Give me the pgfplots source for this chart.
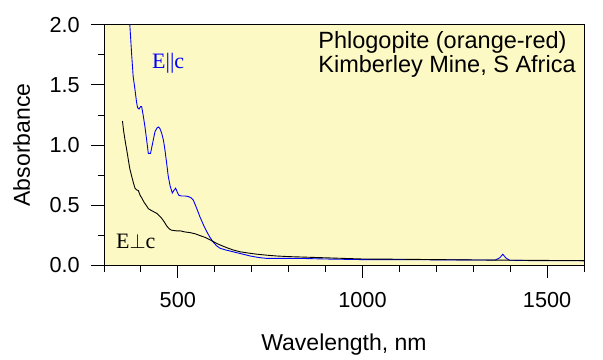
\documentclass[border=0pt]{standalone}
\usepackage{pgfplots}
\pgfplotsset{compat=1.18}
\usepackage{fontspec}
\setmainfont{Liberation Sans}
\newfontfamily\seriffont{Liberation Serif}
\definecolor{bgyellow}{RGB}{253,249,196}
\begin{document}
\begin{tikzpicture}[x=1bp,y=1bp]
\useasboundingbox (0,0) rectangle (603,359);
\begin{axis}[
 at={(104bp,94bp)}, anchor=south west,
 scale only axis, width=480bp, height=240bp,
 xmin=300, xmax=1600, ymin=0, ymax=2,
 axis background/.style={fill=bgyellow},
 axis line style={line width=1bp},
 tick pos=left, tick align=outside,
 major tick length=13bp, minor tick length=6.5bp,
 every tick/.style={black, line width=1bp},
 xtick={500,1000,1500}, minor xtick={300,400,...,1600},
 ytick={0,0.5,1,1.5,2}, minor ytick={0.25,0.75,1.25,1.75},
 yticklabel style={/pgf/number format/fixed,/pgf/number format/fixed zerofill,/pgf/number format/precision=1, inner sep=0pt, xshift=-11bp},
 xticklabel style={/pgf/number format/1000 sep={}, inner sep=0pt, yshift=-14bp},
 /pgf/number format/assume math mode=true,
 ticklabel style={font=\fontsize{21.7bp}{26bp}\selectfont},
 xlabel={Wavelength, nm},
 xlabel style={at={(axis description cs:0.5,-0.3542)}, anchor=base, inner sep=0pt, font=\fontsize{23bp}{28bp}\selectfont},
 ylabel={Absorbance},
 ylabel style={at={(axis description cs:-0.1542,0.5)}, anchor=base, rotate=0, inner sep=0pt, font=\fontsize{23bp}{28bp}\selectfont},
]
\addplot[blue, line width=0.9bp] coordinates {
(366,2.10) (370,2.00) (375,1.75) (379,1.57) (384,1.46) (388,1.36) (391,1.31)
(395,1.30) (399,1.32) (402,1.32) (406,1.25) (411,1.15) (416,1.03) (420,0.93)
(426,0.93) (432,1.02) (438,1.11) (443,1.14) (447,1.15) (451,1.14) (456,1.10)
(461,1.04) (465,0.96) (470,0.84) (474,0.74) (479,0.66) (485,0.60) (489,0.62)
(494,0.64) (498,0.61) (503,0.58) (510,0.575) (520,0.575) (529,0.57) (536,0.56)
(542,0.54) (550,0.48) (560,0.40) (570,0.33) (578,0.28) (587,0.23) (596,0.19)
(605,0.16) (614,0.14) (630,0.125) (650,0.11) (670,0.095) (696,0.075) (720,0.062)
(741,0.055) (780,0.055) (831,0.055) (900,0.05) (1000,0.045) (1100,0.045)
(1200,0.043) (1300,0.042) (1360,0.042) (1372,0.06) (1380,0.09) (1388,0.06)
(1398,0.04) (1450,0.037) (1500,0.036) (1550,0.036) (1600,0.035)
};
\addplot[black, line width=0.9bp] coordinates {
(350,1.20) (353,1.12) (357,1.04) (362,0.95) (366,0.875) (370,0.80) (375,0.74)
(380,0.68) (384,0.64) (389,0.625) (393,0.62) (398,0.58) (402,0.56) (409,0.52)
(416,0.49) (420,0.47) (425,0.46) (434,0.445) (443,0.43) (450,0.41) (456,0.39)
(463,0.36) (470,0.325) (477,0.30) (483,0.29) (495,0.285) (506,0.285) (520,0.275)
(533,0.27) (547,0.26) (560,0.245) (574,0.23) (587,0.21) (605,0.18) (620,0.16)
(632,0.145) (650,0.125) (669,0.11) (690,0.10) (714,0.09) (740,0.082) (768,0.075)
(800,0.07) (850,0.065) (900,0.06) (1000,0.05) (1100,0.048) (1200,0.045)
(1300,0.042) (1400,0.04) (1500,0.038) (1600,0.037)
};
\node[anchor=base west, inner sep=0pt, font=\fontsize{23.5bp}{28bp}\selectfont] at (axis cs:880,1.808) {Phlogopite (orange-red)};
\node[anchor=base west, inner sep=0pt, font=\fontsize{23.5bp}{28bp}\selectfont] at (axis cs:880,1.600) {Kimberley Mine, S Africa};
\node[anchor=base west, inner sep=0pt, text=blue, font=\seriffont\fontsize{22bp}{26bp}\selectfont] at (axis cs:430,1.639) {E||c};
\node[anchor=base west, inner sep=0pt, text=black, font=\seriffont\fontsize{22bp}{26bp}\selectfont] at (axis cs:332.5,0.139) {E$\perp$c};
\end{axis}
\end{tikzpicture}
\end{document}
